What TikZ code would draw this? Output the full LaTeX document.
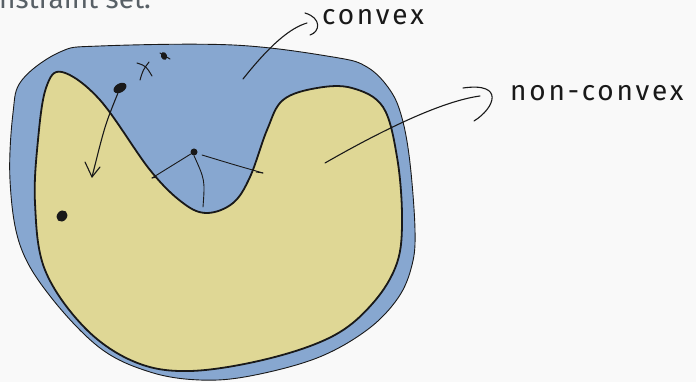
\documentclass[tikz,border=0pt]{standalone}
\usepackage{fontspec}
\setmainfont{Fira Sans}
\usetikzlibrary{shapes.geometric,arrows.meta}
\definecolor{bg}{RGB}{249,249,249}
\definecolor{convexblue}{RGB}{135,167,208}
\definecolor{setyellow}{RGB}{223,215,149}
\definecolor{titlegray}{RGB}{88,96,102}
\definecolor{ink}{RGB}{25,25,25}
\tikzset{
  ink/.style={draw=ink, line width=1.1pt, line cap=round, line join=round},
  dotmark/.style={ellipse, fill=ink, inner sep=0pt},
  hand/.style={font=\fontsize{28}{28}\selectfont\addfontfeature{LetterSpace=10}, text=ink, inner sep=0pt},
}
\begin{document}
\begin{tikzpicture}[x=1pt,y=-1pt]
\fill[bg] (0,0) rectangle (696,382);
\useasboundingbox (0,0) rectangle (696,382);

\node[anchor=base west, inner sep=0pt, text=titlegray, font=\fontsize{28}{28}\selectfont] (title) at (-1,9) {nstraint set.};

% outer convex set
\draw[fill=convexblue, draw=ink, line width=0.9pt]
  plot[smooth cycle, tension=0.6] coordinates {
  (22,80) (60,52) (100,46) (233,45) (333,57) (367,67) (390,90) (402,118)
  (410,163) (415,230) (412,265) (398,298) (367,330) (317,358) (250,376)
  (200,380) (150,372) (100,348) (50,296) (20,245) (10,180) (13,113)};

% inner non-convex set
\draw[fill=setyellow, draw=ink, line width=1.8pt]
  plot[smooth cycle, tension=0.6] coordinates {
  (62,72) (100,100) (150,170) (183,203) (207,213) (233,203) (250,177)
  (267,130) (283,100) (317,88) (352,88) (383,107) (397,157) (402,217)
  (397,263) (373,303) (333,336) (267,359) (190,371) (135,362) (85,328)
  (45,270) (35,203) (38,140) (46,88)};

% dots
\node[dotmark, minimum width=9pt, minimum height=14pt, rotate=-60] (xdot) at (120,88) {};
\node[dotmark, minimum width=10pt, minimum height=12pt, rotate=-40] (pdot) at (62,216) {};
\node[dotmark, minimum width=7pt, minimum height=7pt] (cdot) at (194,152) {};

% x* label
\draw[ink, line width=1pt] (137,63) .. controls (146,66) .. (152,76);
\draw[ink, line width=1pt] (149,62) .. controls (143,70) .. (140,80);
\node[dotmark, minimum width=6pt, minimum height=8pt, rotate=20] (star) at (164,56) {};
\draw[ink, line width=1pt] (160,53) -- (170,59);

% projection arrow
\coordinate (xtip) at (92,177);
\draw[ink] (xdot) .. controls (105,125) .. (xtip);
\draw[ink] (85,162) -- (xtip) -- (100,167);

% lines from center dot
\coordinate (l1) at (152,178);
\coordinate (l2) at (203,207);
\coordinate (l3) at (263,173);
\draw[ink, line width=0.9pt] (cdot) -- (l1);
\draw[ink, line width=0.9pt] (l1) -- (157,177);
\draw[ink, line width=0.9pt] (cdot.south) .. controls (205,180) .. (l2);
\draw[ink, line width=0.9pt] (202,155) .. controls (235,165) .. (l3);
\draw[ink, line width=0.9pt] (256,172) -- (l3);

% convex annotation
\coordinate (cstart) at (243,79);
\coordinate (cend) at (307,23);
\draw[ink] (cstart) .. controls (270,45) and (290,28) .. (cend);
\draw[ink] (305,13) .. controls (322,18) and (320,32) .. (310,35);
\node[hand, anchor=west] (convex) at (322,17) {convex};

% non-convex annotation
\coordinate (nstart) at (325,163);
\coordinate (nend) at (480,96);
\draw[ink] (nstart) .. controls (400,120) and (450,100) .. (nend);
\draw[ink] (463,88) .. controls (505,82) and (495,108) .. (474,121);
\node[hand, anchor=west] (nonconvex) at (510,93) {non-convex};
\end{tikzpicture}
\end{document}
